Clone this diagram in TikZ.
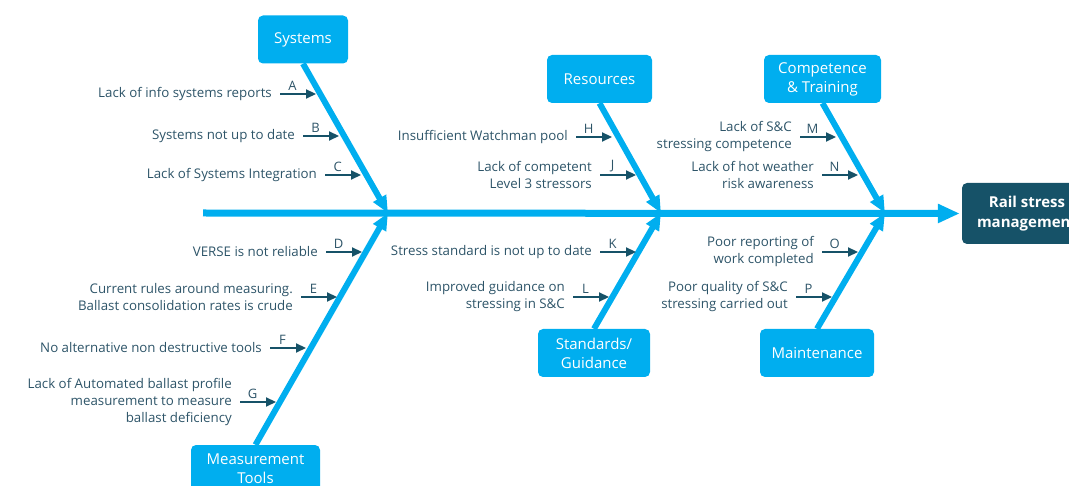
\documentclass[tikz,border=0pt]{standalone}
\usepackage{fontspec}
\setmainfont{Open Sans}
\usetikzlibrary{arrows.meta}

\definecolor{fishblue}{RGB}{0,174,239}
\definecolor{fishdark}{RGB}{22,82,104}
\definecolor{fishtext}{RGB}{45,84,104}

\tikzset{
    catbox/.style={fill=fishblue, rounded corners=5pt, text=white, align=center,
        font=\fontsize{15}{19}\selectfont, minimum height=48pt, inner sep=2pt},
    effect/.style={fill=fishdark, rounded corners=5pt, text=white, align=center,
        font=\bfseries\fontsize{15}{20}\selectfont, minimum width=130pt, minimum height=61pt},
    spine/.style={draw=fishblue, line width=7pt, shorten >=2pt, -{Triangle[length=22pt,width=18pt]}},
    bone/.style={draw=fishblue, line width=6pt, -{Triangle[length=17pt,width=14pt]}},
    cause/.style={anchor=east, align=right, inner sep=0pt, text=fishtext,
        font=\fontsize{13.3}{17}\selectfont},
    causearrow/.style={draw=fishdark, line width=2.2pt, -{Triangle[length=10pt,width=9pt]}},
    letter/.style={pos=0.35, above=2pt, inner sep=0pt, text=fishtext,
        font=\fontsize{13}{15}\selectfont},
}

\begin{document}
\begin{tikzpicture}[x=1pt,y=-1pt]
    \useasboundingbox (0,0) rectangle (1069,486);
    \clip (0,0) rectangle (1069,486);

    % Effect and spine
    \node[effect] (rail) at (1027,213.5) {Rail stress\\management};
    \coordinate (tail) at (203,213);
    \coordinate (j1) at (388,213);
    \coordinate (j2) at (661,213);
    \coordinate (j3) at (885,213);
    \draw[spine] (tail) -- (rail.west);

    % Categories
    \node[catbox, minimum width=90pt] (systems) at (303,39.5) {Systems};
    \node[catbox, minimum width=105pt] (resources) at (599.5,79) {Resources};
    \node[catbox, minimum width=117pt] (competence) at (822.5,79) {Competence\\\& Training};
    \node[catbox, minimum width=129pt] (measure) at (255.5,469) {Measurement\\Tools};
    \node[catbox, minimum width=112pt] (standards) at (594,353) {Standards/\\Guidance};
    \node[catbox, minimum width=114pt] (maintenance) at (817,353) {Maintenance};

    % Bones
    \draw[bone] (systems.south) -- (j1);
    \draw[bone] (resources.south) -- (j2);
    \draw[bone] (competence.south) -- (j3);
    \draw[bone] (measure.north) -- (j1);
    \draw[bone] (standards.north) -- (j2);
    \draw[bone] (maintenance.north) -- (j3);

    % Causes, upper half
    \node[cause] (tA) at (272,94) {Lack of info systems reports};
    \draw[causearrow] ([xshift=8pt]tA.east) -- ++(36,0) node[letter] (lA) {A};
    \node[cause] (tB) at (295,136) {Systems not up to date};
    \draw[causearrow] ([xshift=8pt]tB.east) -- ++(36,0) node[letter] (lB) {B};
    \node[cause] (tC) at (317,175) {Lack of Systems Integration};
    \draw[causearrow] ([xshift=8pt]tC.east) -- ++(36,0) node[letter] (lC) {C};
    \node[cause] (tH) at (568,137) {Insufficient Watchman pool};
    \draw[causearrow] ([xshift=8pt]tH.east) -- ++(36,0) node[letter] (lH) {H};
    \node[cause] (tJ) at (592,175) {Lack of competent\\Level 3 stressors};
    \draw[causearrow] ([xshift=8pt]tJ.east) -- ++(36,0) node[letter] (lJ) {J};
    \node[cause] (tM) at (792,137) {Lack of S\&C\\stressing competence};
    \draw[causearrow] ([xshift=8pt]tM.east) -- ++(36,0) node[letter] (lM) {M};
    \node[cause] (tN) at (814,175) {Lack of hot weather\\risk awareness};
    \draw[causearrow] ([xshift=8pt]tN.east) -- ++(36,0) node[letter] (lN) {N};

    % Causes, lower half
    \node[cause] (tD) at (318,252) {VERSE is not reliable};
    \draw[causearrow] ([xshift=8pt]tD.east) -- ++(36,0) node[letter] (lD) {D};
    \node[cause] (tE) at (293,297) {Current rules around measuring.\\Ballast consolidation rates is crude};
    \draw[causearrow] ([xshift=8pt]tE.east) -- ++(36,0) node[letter] (lE) {E};
    \node[cause] (tF) at (262,348) {No alternative non destructive tools};
    \draw[causearrow] ([xshift=8pt]tF.east) -- ++(36,0) node[letter] (lF) {F};
    \node[cause] (tG) at (232,402) {Lack of Automated ballast profile\\measurement to measure\\ballast deficiency};
    \draw[causearrow] ([xshift=8pt]tG.east) -- ++(36,0) node[letter] (lG) {G};
    \node[cause] (tK) at (592,252) {Stress standard is not up to date};
    \draw[causearrow] ([xshift=8pt]tK.east) -- ++(36,0) node[letter] (lK) {K};
    \node[cause] (tL) at (565,297) {Improved guidance on\\stressing in S\&C};
    \draw[causearrow] ([xshift=8pt]tL.east) -- ++(36,0) node[letter] (lL) {L};
    \node[cause] (tO) at (814,252) {Poor reporting of\\work completed};
    \draw[causearrow] ([xshift=8pt]tO.east) -- ++(36,0) node[letter] (lO) {O};
    \node[cause] (tP) at (788,297) {Poor quality of S\&C\\stressing carried out};
    \draw[causearrow] ([xshift=8pt]tP.east) -- ++(36,0) node[letter] (lP) {P};
\end{tikzpicture}
\end{document}
